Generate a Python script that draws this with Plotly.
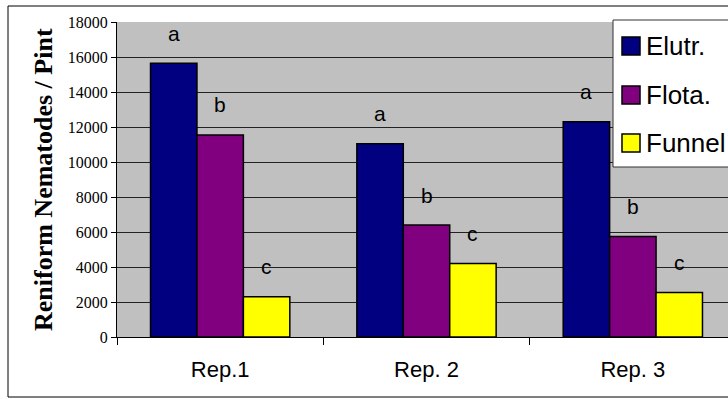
import plotly.graph_objects as go

# Nematode extraction counts per replicate, by method
reps = ["Rep.1", "Rep. 2", "Rep. 3"]
methods = ["Elutr.", "Flota.", "Funnel"]
elutr = [15650, 11050, 12300]
flota = [11550, 6400, 5750]
funnel = [2300, 4200, 2550]
letters_elutr = ["a", "a", "a"]
letters_flota = ["b", "b", "b"]
letters_funnel = ["c", "c", "c"]
colors = ["#000080", "#800080", "#FFFF00"]

series = [elutr, flota, funnel]
letters = [letters_elutr, letters_flota, letters_funnel]

W, H = 728, 399
ML, MR, MT, MB = 117, 0, 22, 62
BARGAP = 0.325
XRANGE = [-0.5, 2.4612]
plot_w = W - ML - MR
plot_h = H - MT - MB


def px_x(px):
    """Page pixel column -> paper x."""
    return (px - ML) / plot_w


def px_y(py):
    """Page pixel row -> paper y."""
    return (H - MB - py) / plot_h


ARIAL = "Arial, Liberation Sans"
TIMES = "Times New Roman, Liberation Serif"

fig = go.Figure()
for name, vals, col in zip(methods, series, colors):
    fig.add_trace(go.Bar(
        x=reps, y=vals, name=name,
        marker=dict(color=col, line=dict(color="#000000", width=1.5)),
    ))

# significance letters centred above each bar
cat_px = plot_w / (XRANGE[1] - XRANGE[0])
bar_px = cat_px * (1 - BARGAP) / len(methods)
for i, (vals, labs) in enumerate(zip(series, letters)):
    for rep, v, lab in zip(reps, vals, labs):
        fig.add_annotation(
            x=rep, y=v, text=lab, showarrow=False,
            xshift=(i - 1) * bar_px, yshift=30,
            font=dict(family=ARIAL, size=21, color="#000000"),
        )

# y-axis title
fig.add_annotation(
    xref="paper", yref="paper", x=px_x(27), y=0.5,
    text="<b>Reniform Nematodes / Pint</b>", textangle=-90, showarrow=False,
    font=dict(family=TIMES, size=26, color="#000000"),
)

# chart frame
fig.add_shape(
    type="rect", xref="paper", yref="paper",
    x0=px_x(8), x1=px_x(760), y0=px_y(397), y1=px_y(6),
    line=dict(color="#000000", width=1), fillcolor="rgba(0,0,0,0)", layer="below",
)

# legend box with swatches and labels
fig.add_shape(
    type="rect", xref="paper", yref="paper",
    x0=px_x(613), x1=px_x(760), y0=px_y(167), y1=px_y(20),
    line=dict(color="#333333", width=1), fillcolor="#FFFFFF", layer="above",
)
row_centres = [46, 95, 143]
for name, col, cy in zip(methods, colors, row_centres):
    fig.add_shape(
        type="rect", xref="paper", yref="paper",
        x0=px_x(622), x1=px_x(640), y0=px_y(cy + 9), y1=px_y(cy - 9),
        line=dict(color="#000000", width=1.5), fillcolor=col, layer="above",
    )
    fig.add_annotation(
        xref="paper", yref="paper", x=px_x(644), y=px_y(cy),
        xanchor="left", yanchor="middle", text=name, showarrow=False,
        font=dict(family=ARIAL, size=26, color="#000000"),
    )

fig.update_layout(
    width=W, height=H,
    margin=dict(l=ML, r=MR, t=MT, b=MB, pad=0),
    paper_bgcolor="#FFFFFF", plot_bgcolor="#C0C0C0",
    barmode="group", bargap=BARGAP, bargroupgap=0,
    showlegend=False,
    xaxis=dict(
        range=XRANGE, showline=True, linecolor="#000000", linewidth=1,
        ticks="outside", tickson="boundaries", ticklen=7, tickcolor="#000000",
        tickfont=dict(family=ARIAL, size=22, color="#000000"),
        showgrid=False, zeroline=False, ticklabelstandoff=13,
    ),
    yaxis=dict(
        range=[0, 18000], dtick=2000, tickformat="d",
        showline=True, linecolor="#000000", linewidth=1,
        ticks="outside", ticklen=5, tickcolor="#000000",
        tickfont=dict(family=TIMES, size=16, color="#000000"),
        showgrid=True, gridcolor="#222222", gridwidth=1, zeroline=False,
    ),
)

fig.write_html("out.html")
